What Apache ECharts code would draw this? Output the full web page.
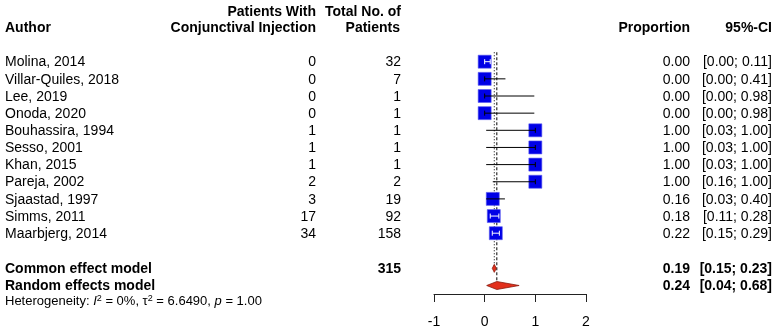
<!DOCTYPE html>
<html>
<head>
<meta charset="utf-8">
<script src="https://cdn.jsdelivr.net/npm/echarts@6/dist/echarts.min.js"></script>
<style>
  html, body { margin: 0; padding: 0; background: #fff; }
  #main { width: 777px; height: 332px; }
</style>
</head>
<body>
<div id="main"></div>
<script>
// study data
var authors = ['Molina, 2014', 'Villar-Quiles, 2018', 'Lee, 2019', 'Onoda, 2020', 'Bouhassira, 1994',
  'Sesso, 2001', 'Khan, 2015', 'Pareja, 2002', 'Sjaastad, 1997', 'Simms, 2011', 'Maarbjerg, 2014'];
var events = [0, 0, 0, 0, 1, 1, 1, 2, 3, 17, 34];
var totals = [32, 7, 1, 1, 1, 1, 1, 2, 19, 92, 158];
var props = [0, 0, 0, 0, 1, 1, 1, 1, 0.16, 0.18, 0.22];
var lower = [0, 0, 0, 0, 0.03, 0.03, 0.03, 0.16, 0.03, 0.11, 0.15];
var upper = [0.11, 0.41, 0.98, 0.98, 1, 1, 1, 1, 0.40, 0.28, 0.29];

// pooled estimates
var commonEst = [0.19, 0.15, 0.23];
var randomEst = [0.24, 0.04, 0.68];
var totalPatients = 315;
var hetText = 'Heterogeneity: {i|I}{s|2} = 0%, τ{s|2} = 6.6490, {i|p} = 1.00';

var xTicks = [-1, 0, 1, 2];

var commonRow = 12.05, randomRow = 13.05, hetRow = 14.0;
var FONT = '"Liberation Sans", Arial, sans-serif';
var SQ = 13;

var chart = echarts.init(document.getElementById('main'));

var squareData = props.map(function (p, i) { return [p, i]; });
var ciData = props.map(function (p, i) { return [i, lower[i], upper[i], p]; });

function ciRender(params, api) {
  var row = api.value(0);
  var p1 = api.coord([api.value(1), row]);
  var p2 = api.coord([api.value(2), row]);
  var c = api.coord([api.value(3), row]);
  var half = SQ / 2;
  var in1 = p1[0] >= c[0] - half, in2 = p2[0] <= c[0] + half;
  var col = (in1 && in2) ? '#fff' : '#000';
  var cap = 2.5;
  var ls = { stroke: col, lineWidth: 1 };
  var kids = [{ type: 'line', shape: { x1: p1[0], y1: p1[1], x2: p2[0], y2: p2[1] }, style: ls }];
  // small end marks only where the interval ends under the square
  if (in1) kids.push({ type: 'line', shape: { x1: p1[0], y1: p1[1] - cap, x2: p1[0], y2: p1[1] + cap }, style: ls });
  if (in2) kids.push({ type: 'line', shape: { x1: p2[0], y1: p2[1] - cap, x2: p2[0], y2: p2[1] + cap }, style: ls });
  return { type: 'group', children: kids };
}

function diamondRender(params, api) {
  var row = api.value(0);
  var est = api.value(1), lo = api.value(2), hi = api.value(3);
  var l = api.coord([lo, row]), r = api.coord([hi, row]), c = api.coord([est, row]);
  var h = 4;
  return {
    type: 'polygon',
    shape: { points: [[l[0], c[1]], [c[0], c[1] - h], [r[0], c[1]], [c[0], c[1] + h]] },
    style: { fill: '#e2301c', stroke: '#8a1a0e', lineWidth: 0.8 }
  };
}

chart.setOption({
  animation: false,
  grid: { left: 434, width: 152, top: 44.55, bottom: 38 },
  xAxis: {
    type: 'value', position: 'bottom', min: xTicks[0], max: xTicks[xTicks.length - 1], interval: 1,
    splitLine: { show: false },
    axisLine: { onZero: false, lineStyle: { color: '#222', width: 1 } },
    axisTick: { length: 8, lineStyle: { color: '#222' } },
    axisLabel: { color: '#000', fontSize: 14, fontFamily: FONT, margin: 21 }
  },
  yAxis: { type: 'value', inverse: true, min: -1, max: 13.545, show: false },
  series: [
    {
      type: 'line', data: [[commonEst[0], -0.55], [commonEst[0], commonRow]],
      showSymbol: false, lineStyle: { color: '#000', width: 1, type: [1, 2] }, z: 1
    },
    {
      type: 'line', data: [[randomEst[0], -0.55], [randomEst[0], randomRow - 0.3]],
      showSymbol: false, lineStyle: { color: '#000', width: 1, type: [3, 2] }, z: 1
    },
    {
      type: 'scatter', data: squareData, symbol: 'rect', symbolSize: SQ,
      itemStyle: { color: '#0000e6', borderColor: '#5a5af0', borderWidth: 0.6, opacity: 1 }, z: 2
    },
    {
      type: 'custom', data: ciData, renderItem: ciRender,
      encode: { x: [1, 2, 3], y: 0 }, z: 3
    },
    {
      type: 'custom', renderItem: diamondRender, encode: { x: [1, 2, 3], y: 0 },
      data: [[commonRow, commonEst[0], commonEst[1], commonEst[2]],
             [randomRow, randomEst[0], randomEst[1], randomEst[2]]], z: 3
    }
  ]
});

// text columns
function yOf(row) { return chart.convertToPixel({ yAxisIndex: 0 }, row); }
function txt(s, x, y, align, bold) {
  return {
    type: 'text', x: x, y: y, silent: true,
    style: {
      text: s, fill: '#000', align: align, verticalAlign: 'middle',
      font: (bold ? 'bold ' : '') + '14px ' + FONT
    }
  };
}
function fmt(v) { return v.toFixed(2); }
function ci(lo, hi) { return '[' + fmt(lo) + '; ' + fmt(hi) + ']'; }

var g = [];
g.push(txt('Author', 5, 28, 'left', true));
g.push(txt('Patients With', 316, 12.5, 'right', true));
g.push(txt('Conjunctival Injection', 316, 28, 'right', true));
g.push(txt('Total No. of', 401, 12.5, 'right', true));
g.push(txt('Patients', 400, 28, 'right', true));
g.push(txt('Proportion', 690, 28, 'right', true));
g.push(txt('95%-CI', 772, 28, 'right', true));

authors.forEach(function (a, i) {
  var y = yOf(i) + 0.8;
  g.push(txt(a, 5, y, 'left', false));
  g.push(txt(String(events[i]), 316, y, 'right', false));
  g.push(txt(String(totals[i]), 401, y, 'right', false));
  g.push(txt(fmt(props[i]), 690, y, 'right', false));
  g.push(txt(ci(lower[i], upper[i]), 772, y, 'right', false));
});

var yc = yOf(commonRow) + 0.8, yr = yOf(randomRow) + 0.8;
g.push(txt('Common effect model', 5, yc, 'left', true));
g.push(txt(String(totalPatients), 401, yc, 'right', true));
g.push(txt(fmt(commonEst[0]), 690, yc, 'right', true));
g.push(txt(ci(commonEst[1], commonEst[2]), 772, yc, 'right', true));
g.push(txt('Random effects model', 5, yr, 'left', true));
g.push(txt(fmt(randomEst[0]), 690, yr, 'right', true));
g.push(txt(ci(randomEst[1], randomEst[2]), 772, yr, 'right', true));

g.push({
  type: 'text', x: 5, y: yOf(hetRow), silent: true,
  style: {
    text: hetText, fill: '#000', align: 'left', verticalAlign: 'middle',
    fontSize: 13, fontFamily: FONT, lineHeight: 16,
    rich: {
      i: { fontSize: 13, fontFamily: FONT, fontStyle: 'italic', fill: '#000', lineHeight: 16 },
      s: { fontSize: 9, fontFamily: FONT, fill: '#000', verticalAlign: 'top', lineHeight: 10 }
    }
  }
});

chart.setOption({ graphic: g });
</script>
</body>
</html>
